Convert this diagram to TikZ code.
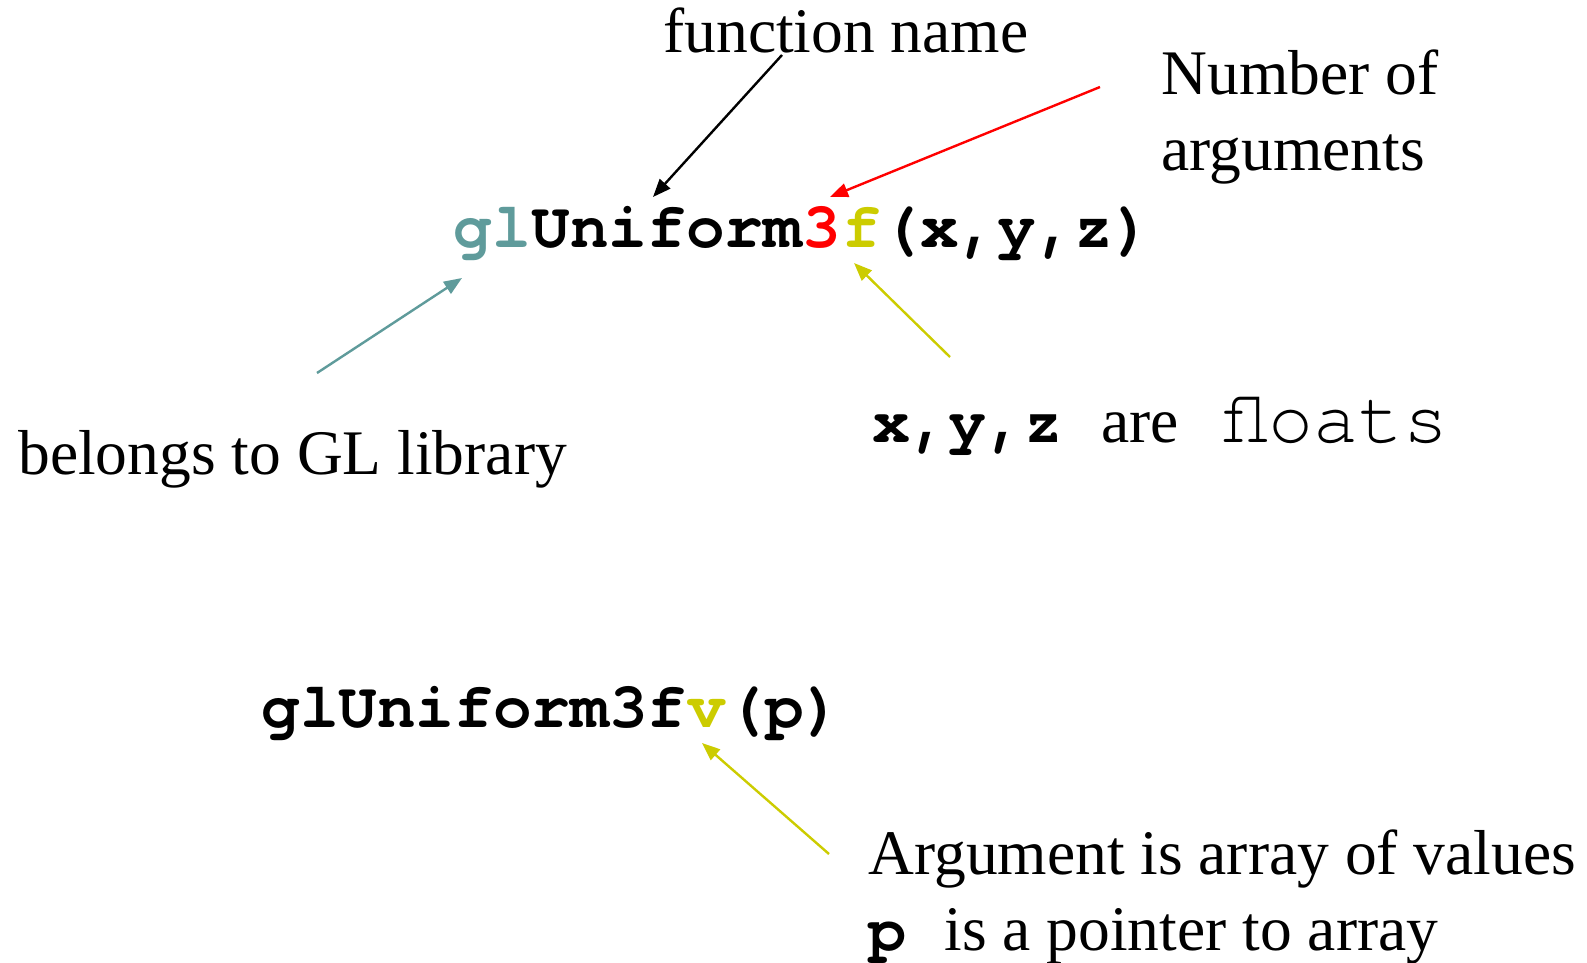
\documentclass[tikz,border=0pt]{standalone}
\usepackage{fontspec}
\setmainfont{Liberation Serif}
\setmonofont{TeX Gyre Cursor}
\usetikzlibrary{arrows.meta,positioning}

\definecolor{glteal}{RGB}{95,155,155}
\definecolor{glyellow}{RGB}{204,204,0}

\begin{document}
\begin{tikzpicture}[x=0.5pt,y=-0.5pt,
    txt/.style={inner sep=0pt, anchor=base west, font=\fontsize{31.75}{38}\selectfont},
    code/.style={txt, font=\fontsize{32.2}{38}\selectfont\ttfamily\bfseries},
    pointer/.style={line width=1.2pt, -{Triangle[length=9pt,width=7pt]}}]

    % Fix the size of the page
    \useasboundingbox (0,0) rectangle (1587,963);

    % Labels at the top
    \node[txt] (fname) at (663,53) {function name};
    \node[txt, align=left] (nargs) at (1161,170) {Number of\\arguments};

    % The first call, one node per coloured part
    \node[code, text=glteal] (gl) at (453,248) {gl};
    \node[code] (uni) at (gl.base east) {Uniform};
    \node[code, text=red] (three) at (uni.base east) {3};
    \node[code, text=glyellow] (f) at (three.base east) {f};
    \node[code] (args) at (f.base east) {(x,y,z)};

    % Labels below the first call
    \node[txt] (belongs) at (18,474) {belongs to GL library};
    \node[txt] (floats) at (872,442)
        {{\ttfamily\bfseries x,y,z\ }are{\ttfamily\fontsize{37.5}{38}\selectfont\ floats}};

    % The second call
    \node[code] (pre) at (261,727) {glUniform3f};
    \node[code, text=glyellow] (v) at (pre.base east) {v};
    \node[code] (post) at (v.base east) {(p)};

    % Label below the second call
    \node[txt, align=left] (argnote) at (868,950)
        {Argument is array of values\\{\ttfamily\bfseries p\ }is a pointer to array};

    % End points of the arrows
    \coordinate (fnTail) at (782,55);
    \coordinate (fnTip) at (653,197);
    \coordinate (naTail) at (1100,87);
    \coordinate (naTip) at (830,197);
    \coordinate (glTail) at (317,373);
    \coordinate (glTip) at (462,278);
    \coordinate (fTail) at (950,357);
    \coordinate (fTip) at (854,263);
    \coordinate (vTail) at (829,854);
    \coordinate (vTip) at (702,743);

    % Draw the arrows
    \draw[pointer] (fnTail) -- (fnTip);
    \draw[pointer, red] (naTail) -- (naTip);
    \draw[pointer, glteal] (glTail) -- (glTip);
    \draw[pointer, glyellow] (fTail) -- (fTip);
    \draw[pointer, glyellow] (vTail) -- (vTip);

\end{tikzpicture}
\end{document}
